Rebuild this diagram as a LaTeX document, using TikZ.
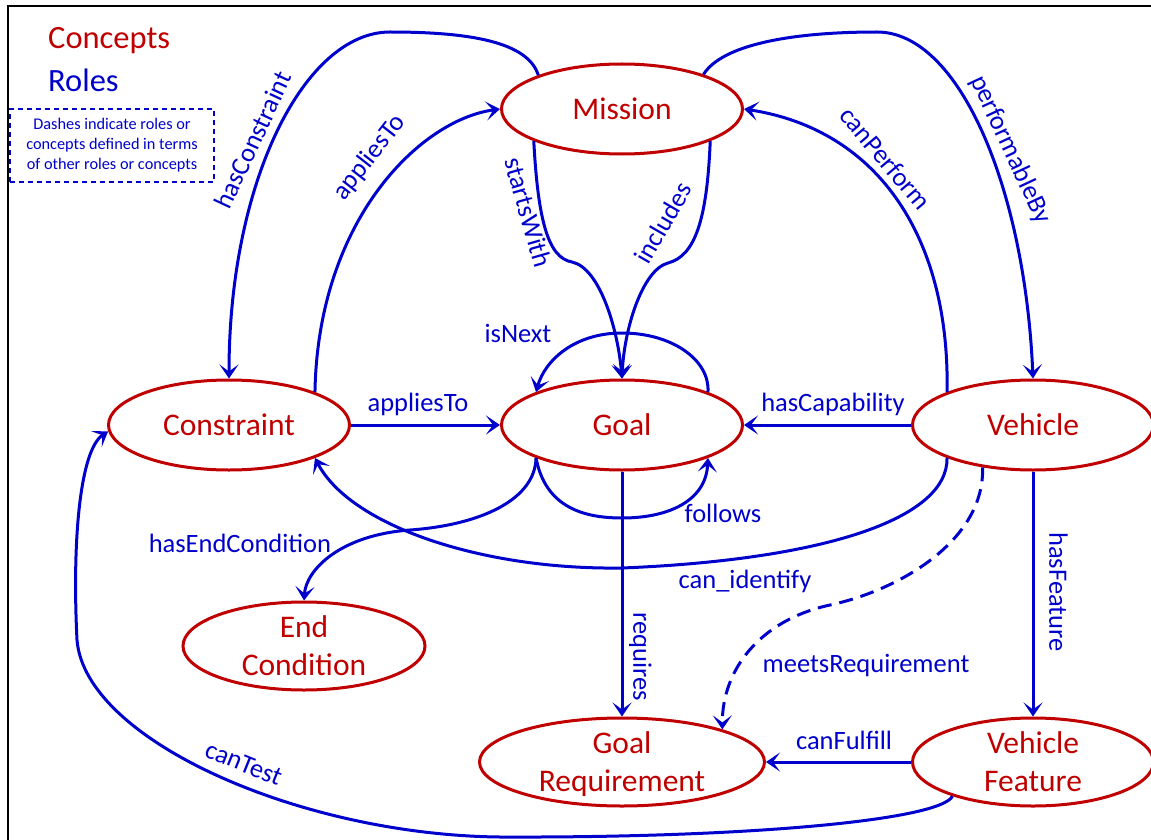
\documentclass[tikz,border=0pt]{standalone}
\usepackage{fontspec}
\setmainfont{Carlito}
\usetikzlibrary{shapes.geometric,arrows.meta}
\definecolor{cred}{RGB}{192,0,0}
\definecolor{cblue}{RGB}{0,0,204}
\tikzset{
  concept/.style={ellipse, draw=cred, line width=3pt, text=cred,
    font=\fontsize{31.5}{38}\selectfont, align=center, inner sep=0pt,
    minimum width=241pt, minimum height=90pt},
  rel/.style={draw=cblue, line width=3pt, -{Stealth[length=14pt,width=19pt,inset=7pt]}},
  lbl/.style={text=cblue, font=\fontsize{26.5}{30}\selectfont, inner sep=0pt,
    text height=18.5pt, text depth=5.3pt},
  dashrel/.style={dash pattern=on 14pt off 8pt}
}
\begin{document}
\begin{tikzpicture}[x=1pt,y=-1pt]
\useasboundingbox (0,0) rectangle (1151,840);
\clip (0,0) rectangle (1151,840);
\fill[white] (0,0) rectangle (1151,840);
\draw[line width=2pt] (8,860) -- (8,6) -- (1170,6);

% legend
\node[anchor=base west, inner sep=0pt, text=cred, font=\fontsize{32.5}{39}\selectfont] (concepts) at (48,49) {Concepts};
\node[anchor=base west, inner sep=0pt, text=cblue, font=\fontsize{32.5}{39}\selectfont] (roles) at (48,92) {Roles};
\node[draw=cblue, line width=1.5pt, dash pattern=on 5pt off 4pt, minimum width=204pt, minimum height=73pt,
  inner sep=0pt, align=center, text=cblue, font=\fontsize{16.3}{20}\selectfont] (note) at (112,145.5)
  {Dashes indicate roles or\\concepts defined in terms\\of other roles or concepts};

% concepts
\node[concept] (mission) at (622,109) {Mission};
\node[concept] (goal) at (622,425) {Goal};
\node[concept] (constraint) at (229,425) {Constraint};
\node[concept] (vehicle) at (1033,425) {Vehicle};
\node[concept, minimum width=242pt, minimum height=88pt] (endc) at (304,646) {End\\Condition};
\node[concept, minimum width=285pt, minimum height=88pt, text depth=0pt] (greq) at (622,762) {Goal\\Requirement};
\node[concept, minimum height=88pt] (vfeat) at (1033,762) {Vehicle\\Feature};

% roles
\draw[rel] (mission.158) .. controls (528,42) and (470,32) .. (390,32) .. controls (305,32) and (229,180) .. (constraint.north);
\draw[rel] (constraint.21) .. controls (318,220) and (420,120) .. (mission.west);
\draw[rel] (mission.200) .. controls (538,220) and (548,258) .. (572,262) .. controls (600,268) and (618,330) .. (goal.north);
\draw[rel] (mission.-20) .. controls (707,220) and (695,256) .. (668,263) .. controls (642,270) and (624,330) .. (goal.north);
\draw[rel] (vehicle.159) .. controls (950,240) and (880,130) .. (mission.east);
\draw[rel] (mission.23) .. controls (722,45) and (790,32) .. (877,32) .. controls (960,32) and (1025,190) .. (vehicle.north);
\draw[rel] (goal.21) .. controls (710,360) and (672,333) .. (622,333) .. controls (575,333) and (545,360) .. (goal.159);
\draw[rel] (goal.201) .. controls (545,505) and (580,518) .. (622,518) .. controls (670,518) and (706,500) .. (goal.-21);
\draw[rel] (goal.201) .. controls (535,500) and (480,525) .. (410,530) .. controls (340,535) and (306,570) .. (endc.north);
\draw[rel] (vehicle.201) .. controls (948,520) and (820,560) .. (622,568) .. controls (480,570) and (350,525) .. (constraint.-21);
\draw[rel, dashrel] (vehicle.220) .. controls (985,540) and (900,590) .. (830,605) .. controls (760,620) and (722,670) .. (greq.18);
\draw[rel] (goal.south) -- (greq.north);
\draw[rel] (vehicle.south) -- (vfeat.north);
\draw[rel] (vfeat.west) -- (greq.east);
\draw[rel] (vehicle.west) -- (goal.east);
\draw[rel] (constraint.east) -- (goal.west);
\draw[rel] (vfeat.203) .. controls (940,820) and (750,838) .. (500,837) .. controls (300,835) and (85,740) .. (77,640) .. controls (72,540) and (80,450) .. (constraint.183);

% labels
\node[lbl, rotate=65] (lhascon) at (255,141) {hasConstraint};
\node[lbl, rotate=52] (lappm) at (370,158) {appliesTo};
\node[lbl, rotate=-74] (lstarts) at (526,213) {startsWith};
\node[lbl, rotate=60] (lincl) at (665,224) {includes};
\node[lbl, rotate=-50] (lcanperf) at (884,160) {canPerform};
\node[lbl, rotate=-65] (lperf) at (1010,150) {performableBy};
\node[lbl] (lnext) at (518,336) {isNext};
\node[lbl] (lappg) at (418,405) {appliesTo};
\node[lbl] (lcap) at (833,405) {hasCapability};
\node[lbl] (lfollows) at (723,516) {follows};
\node[lbl] (lend) at (240,546) {hasEndCondition};
\node[lbl] (lident) at (745,582) {can\_identify};
\node[lbl, rotate=-90] (lreq) at (640,657) {requires};
\node[lbl] (lmeets) at (866,666) {meetsRequirement};
\node[lbl, rotate=-90] (lfeat) at (1056,592) {hasFeature};
\node[lbl] (lfulfill) at (844,743) {canFulfill};
\node[lbl, rotate=-22] (ltest) at (243,765) {canTest};
\end{tikzpicture}
\end{document}
